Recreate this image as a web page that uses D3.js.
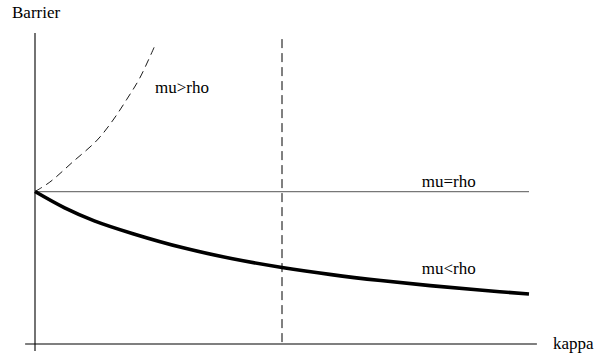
<!DOCTYPE html>
<html>
<head>
<meta charset="utf-8">
<script src="https://cdn.jsdelivr.net/npm/d3@7"></script>
</head>
<body style="margin:0;padding:0;background:#fff">
<svg id="chart" width="595" height="358" style="display:block"></svg>
<script>
// Barrier as a function of kappa for three regimes of mu vs rho
const kappaBelow   = [0, 0.3, 0.6, 1.0, 1.5, 2.0, 2.5, 3.0, 3.5, 4.0, 4.5, 5.0];
const barrierBelow = [1.0, 0.893, 0.808, 0.722, 0.631, 0.559, 0.502, 0.455, 0.416, 0.383, 0.354, 0.328];

const kappaAbove   = [0, 0.15, 0.38, 0.63, 0.79, 0.93, 1.06, 1.22];
const barrierAbove = [1.0, 1.062, 1.193, 1.338, 1.469, 1.606, 1.744, 1.967];

const kappaEqual   = [0, 5.0];
const barrierEqual = [1.0, 1.0];

const kappaCritical = 2.5;
const criticalTop   = 2.0;

const labels = [
  { text: "mu>rho", kappa: 1.215, barrier: 1.647 },
  { text: "mu=rho", kappa: 3.914, barrier: 1.033 },
  { text: "mu<rho", kappa: 3.914, barrier: 0.457 }
];

const svg = d3.select("#chart");

const x = d3.scaleLinear().domain([0, 5]).range([35, 529]);
const y = d3.scaleLinear().domain([0, 2.04]).range([344, 33]);

const line = d3.line()
  .x(d => x(d[0]))
  .y(d => y(d[1]))
  .curve(d3.curveCatmullRom);

// serif label text
function label(sel) {
  sel.attr("font-family", "Liberation Serif")
     .attr("font-size", 17)
     .attr("fill", "#000");
  sel.each(function () {
    this.style.setProperty("font-family", '"Liberation Serif", "Times New Roman", serif', "important");
    this.style.setProperty("font-size", "17px", "important");
  });
  return sel;
}

// axes
svg.append("line")
  .attr("x1", x(-0.1)).attr("x2", x(5.08))
  .attr("y1", y(0)).attr("y2", y(0))
  .attr("stroke", "#000").attr("stroke-width", 1.1);
svg.append("line")
  .attr("x1", x(0)).attr("x2", x(0))
  .attr("y1", y(2.04)).attr("y2", y(-0.046))
  .attr("stroke", "#000").attr("stroke-width", 1.1);

// critical kappa
svg.append("line")
  .attr("x1", x(kappaCritical)).attr("x2", x(kappaCritical))
  .attr("y1", y(criticalTop)).attr("y2", y(0))
  .attr("stroke", "#000").attr("stroke-width", 1)
  .attr("stroke-dasharray", "9,5");

// mu = rho
svg.append("path")
  .datum(d3.zip(kappaEqual, barrierEqual))
  .attr("d", line)
  .attr("fill", "none").attr("stroke", "#777").attr("stroke-width", 1.3);

// mu > rho
svg.append("path")
  .datum(d3.zip(kappaAbove, barrierAbove))
  .attr("d", line)
  .attr("fill", "none").attr("stroke", "#000").attr("stroke-width", 0.9)
  .attr("stroke-dasharray", "8,5");

// mu < rho
svg.append("path")
  .datum(d3.zip(kappaBelow, barrierBelow))
  .attr("d", line)
  .attr("fill", "none").attr("stroke", "#000").attr("stroke-width", 3.6);

// curve labels
svg.selectAll("text.curve")
  .data(labels)
  .join("text")
  .attr("class", "curve")
  .attr("x", d => x(d.kappa))
  .attr("y", d => y(d.barrier))
  .text(d => d.text)
  .call(label);

// axis titles
svg.append("text").attr("x", 12).attr("y", 17.5).text("Barrier").call(label);
svg.append("text").attr("x", 553).attr("y", 348.5).text("kappa").call(label);
</script>
</body>
</html>
